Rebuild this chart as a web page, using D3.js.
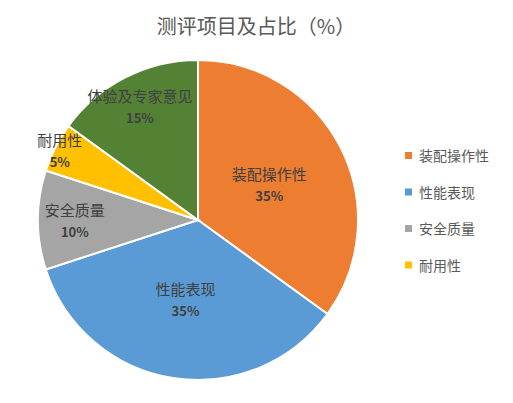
<!DOCTYPE html>
<html><head><meta charset="utf-8">
<script src="https://d3js.org/d3.v7.min.js"></script>
<style>body{margin:0;background:#fff;font-family:"Noto Sans CJK SC",sans-serif;}</style>
</head><body>
<svg id="chart" width="513" height="403"></svg>
<script>
const categories = ["装配操作性", "性能表现", "安全质量", "耐用性", "体验及专家意见"];
const values = [35, 35, 10, 5, 15];
const colors = ["#ED7D31", "#5B9BD5", "#A5A5A5", "#FFC000", "#548235"];
const legendItems = ["装配操作性", "性能表现", "安全质量", "耐用性"];
const labelFactor = [0.5, 0.5, 0.77, 0.97, 0.8];

const svg = d3.select("#chart");
const cx = 198, cy = 220, r = 160;

svg.append("text").attr("x", 256).attr("y", 34).attr("text-anchor", "middle")
  .attr("font-size", 20).attr("fill", "#595959").text("测评项目及占比（%）");

const pie = d3.pie().sort(null).value(d => d)(values);
const arc = d3.arc().innerRadius(0).outerRadius(r);
const g = svg.append("g").attr("transform", `translate(${cx},${cy})`);
g.selectAll("path").data(pie).join("path")
  .attr("d", arc).attr("fill", (d, i) => colors[i])
  .attr("stroke", "#fff").attr("stroke-width", 2);

pie.forEach((d, i) => {
  const lr = r * labelFactor[i];
  const c = d3.arc().innerRadius(lr).outerRadius(lr).centroid(d);
  const t = g.append("text").attr("text-anchor", "middle").attr("fill", "#404040");
  t.append("tspan").attr("x", c[0]).attr("y", c[1] - 4).attr("font-size", 15).text(categories[i]);
  t.append("tspan").attr("x", c[0]).attr("y", c[1] + 17).attr("font-size", 13)
    .attr("font-weight", "bold").text(values[i] + "%");
});

const leg = svg.append("g");
legendItems.forEach((name, i) => {
  const y = 156 + i * 36.5;
  leg.append("rect").attr("x", 405).attr("y", y - 4).attr("width", 7).attr("height", 7)
    .attr("fill", colors[categories.indexOf(name)]);
  leg.append("text").attr("x", 419).attr("y", y + 5).attr("font-size", 14)
    .attr("fill", "#595959").text(name);
});
</script>
</body></html>
